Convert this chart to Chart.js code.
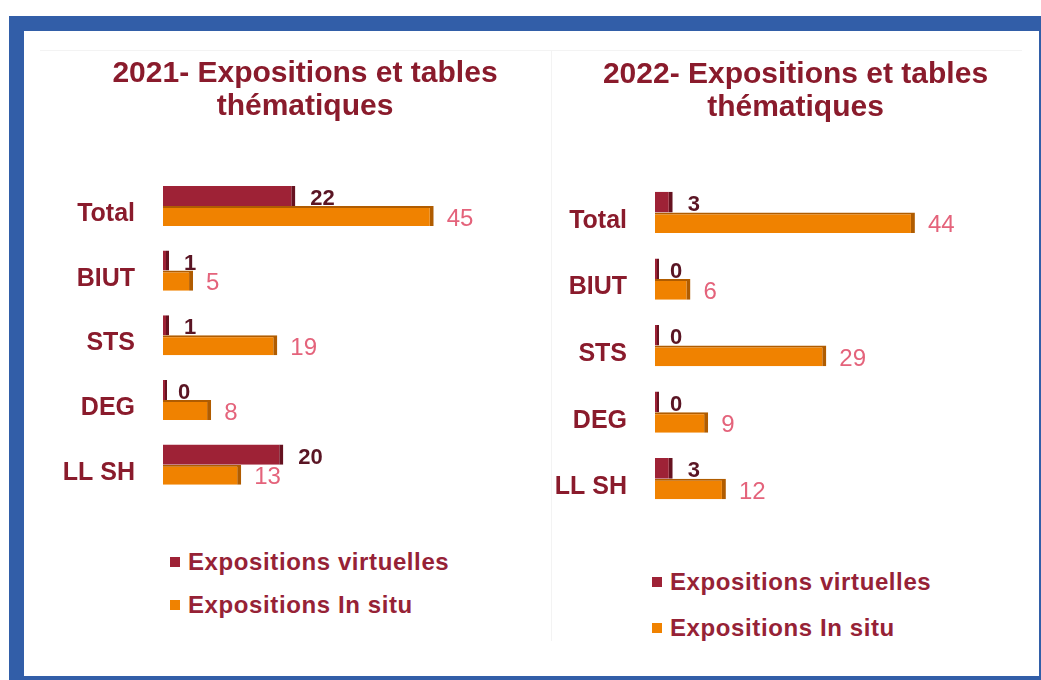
<!DOCTYPE html>
<html>
<head>
<meta charset="utf-8">
<script src="https://cdn.jsdelivr.net/npm/chart.js@4/dist/chart.umd.min.js"></script>
<style>
  html, body { margin: 0; padding: 0; background: #fff; }
  body { width: 1041px; height: 680px; position: relative; overflow: hidden; font-family: "Liberation Sans", Arial, sans-serif; }
  .frame { position: absolute; left: 9px; top: 16px; width: 1045px; height: 675px; box-sizing: border-box; border: 15px solid #325ea8; }
  .panel { position: absolute; top: 50px; height: 590px; border: 1px solid #f3f3f3; border-bottom: none; }
  .chart-box { position: absolute; }
  .legend { position: absolute; color: #962236; font-weight: bold; font-size: 24px; letter-spacing: 0.6px; }
  .legend div { position: relative; height: 28px; line-height: 28px; white-space: nowrap; }
  .legend span.sw { position: absolute; width: 10px; height: 10px; top: 9px; left: -18px; }
</style>
</head>
<body>
<div class="frame"></div>
<div class="panel" style="left: 40px; width: 511px; border-left: none;"></div>
<div class="panel" style="left: 551px; width: 470px; border-right: none;"></div>

<div class="chart-box" style="left: 40px; top: 40px; width: 508px; height: 500px;">
  <canvas id="chart2021" width="508" height="500"></canvas>
</div>
<div class="chart-box" style="left: 540px; top: 40px; width: 496px; height: 515px;">
  <canvas id="chart2022" width="496" height="515"></canvas>
</div>

<div class="legend" id="legend2021" style="left: 188px; top: 548px;"></div>
<div class="legend" id="legend2022" style="left: 670px; top: 568px;"></div>

<script>
const categories = ["Total", "BIUT", "STS", "DEG", "LL SH"];
const virtuelles2021 = [22, 1, 1, 0, 20];
const inSitu2021 = [45, 5, 19, 8, 13];
const virtuelles2022 = [3, 0, 0, 0, 3];
const inSitu2022 = [44, 6, 29, 9, 12];
const seriesNames = ["Expositions virtuelles", "Expositions In situ"];
const title2021 = ["2021- Expositions et tables", "thématiques"];
const title2022 = ["2022- Expositions et tables", "thématiques"];

const FONT = "'Liberation Sans', Arial, sans-serif";
const colors = {
  virtual: "#9e2236",
  virtualSide: "#661220",
  inSitu: "#f08200",
  inSituSide: "#b05c00",
  title: "#8a1b2c",
  virtualLabel: "#5a1524",
  inSituLabel: "#e4637b"
};

// value labels drawn next to each bar end
const valueLabels = {
  id: "valueLabels",
  afterDatasetsDraw(chart) {
    const ctx = chart.ctx;
    const xScale = chart.scales.x;
    ctx.save();
    ctx.textAlign = "left";
    ctx.textBaseline = "middle";
    chart.data.datasets.forEach((dataset, i) => {
      const meta = chart.getDatasetMeta(i);
      ctx.fillStyle = i === 0 ? colors.virtualLabel : colors.inSituLabel;
      ctx.font = i === 0 ? `bold 22px ${FONT}` : `24px ${FONT}`;
      const gap = i === 0 ? 15 : 13;
      meta.data.forEach((bar, j) => {
        const value = dataset.data[j];
        ctx.fillText(String(value), xScale.getPixelForValue(value) + gap, bar.y + 3);
      });
    });
    ctx.restore();
  }
};

function buildChart(canvasId, titleLines, virtualData, inSituData, layout) {
  const ctx = document.getElementById(canvasId);
  return new Chart(ctx, {
    type: "bar",
    data: {
      labels: categories,
      datasets: [
        {
          label: seriesNames[0],
          data: virtualData,
          backgroundColor: colors.virtual,
          borderColor: colors.virtualSide,
          borderWidth: { right: 4, top: 0, bottom: 0, left: 0 },
          borderSkipped: "left",
          minBarLength: 4,
          categoryPercentage: 0.62,
          barPercentage: 1
        },
        {
          label: seriesNames[1],
          data: inSituData,
          backgroundColor: colors.inSitu,
          borderColor: colors.inSituSide,
          borderWidth: { right: 4, top: 2, bottom: 0, left: 0 },
          borderSkipped: "left",
          categoryPercentage: 0.62,
          barPercentage: 1
        }
      ]
    },
    options: {
      indexAxis: "y",
      responsive: false,
      animation: false,
      layout: { padding: { left: layout.padLeft, right: 0, bottom: 0, top: 0 } },
      plugins: {
        legend: { display: false },
        tooltip: { enabled: false },
        title: {
          display: true,
          text: titleLines,
          color: colors.title,
          font: { family: FONT, size: 30, weight: "bold", lineHeight: 1.08 },
          padding: { top: layout.titleTop, bottom: layout.titleBottom }
        }
      },
      scales: {
        x: { display: false, min: 0, max: layout.xMax },
        y: {
          grid: { display: false, drawTicks: false },
          border: { display: false },
          ticks: {
            color: colors.title,
            font: { family: FONT, size: 25, weight: "bold" },
            padding: 28,
            labelOffset: layout.labelOffset
          },
          afterFit(scale) {
            scale.width = layout.axisWidth;
          }
        }
      }
    },
    plugins: [valueLabels]
  });
}

function renderLegend(elementId) {
  const root = document.getElementById(elementId);
  root.innerHTML = "";
  const swatches = [colors.virtual, colors.inSitu];
  seriesNames.forEach((name, i) => {
    const row = document.createElement("div");
    row.innerHTML = `<span class="sw" style="background:${swatches[i]}"></span>${name}`;
    root.appendChild(row);
  });
}

buildChart("chart2021", title2021, virtuelles2021, inSitu2021, {
  padLeft: 22, axisWidth: 101, xMax: 64, titleTop: 18, titleBottom: 50.8, labelOffset: 8
});
buildChart("chart2022", title2022, virtuelles2022, inSitu2022, {
  padLeft: 15, axisWidth: 100, xMax: 64.5, titleTop: 19, titleBottom: 55.4, labelOffset: 8.5
});

renderLegend("legend2021");
renderLegend("legend2022");
document.querySelector("#legend2021").lastChild.style.marginTop = "15px";
document.querySelector("#legend2022").lastChild.style.marginTop = "18px";
</script>
</body>
</html>
